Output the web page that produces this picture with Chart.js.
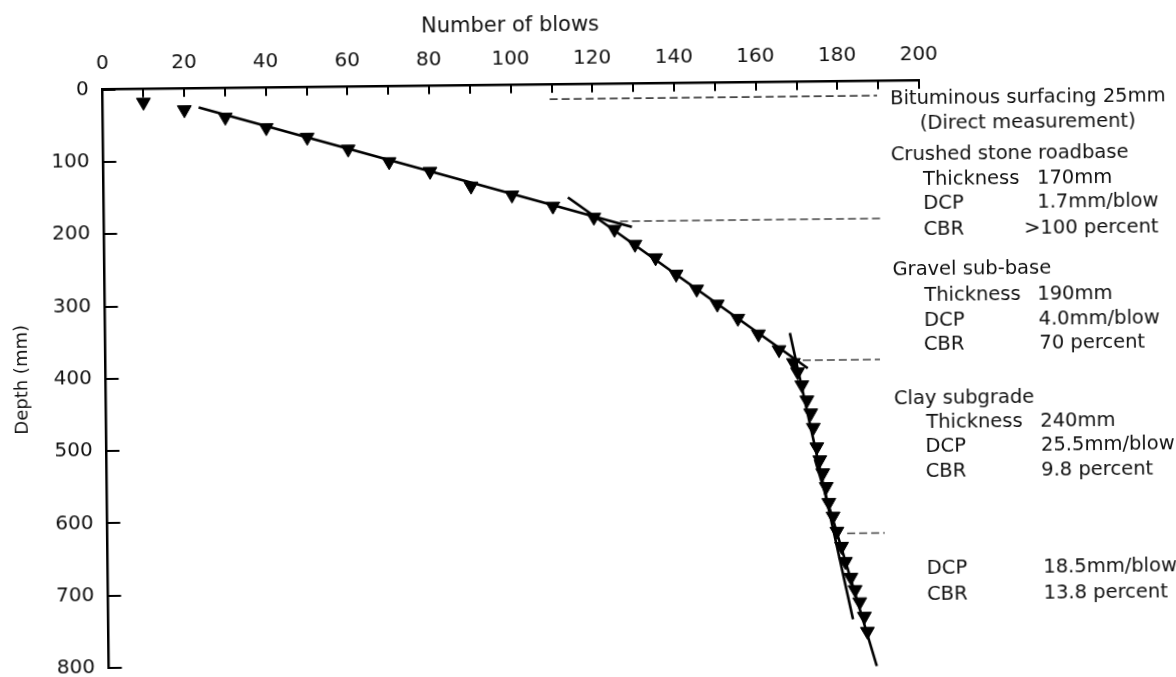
<!DOCTYPE html>
<html><head><meta charset="utf-8">
<script src="https://cdn.jsdelivr.net/npm/chart.js@4"></script>
<style>
html,body{margin:0;padding:0;background:#fff;overflow:hidden}
#wrap{width:1176px;height:677px;position:relative}
#c{transform:rotate(-0.63deg);transform-origin:103px 89px}
</style>
</head><body><div id="wrap"><canvas id="c"></canvas></div>
<script>
// ---- tick labels ----
const blowTickLabels = [0,20,40,60,80,100,120,140,160,180,200];
const blowMinorTicks = [0,10,20,30,40,50,60,70,80,90,100,110,120,130,140,150,160,170,180,190,200];
const depthTickLabels = [0,100,200,300,400,500,600,700,800];

// ---- DCP readings (blows, depth mm) ----
const blows  = [10,20,30,40,50,60,70,80,90,100,110,120,125,130,135,140,145,150,155,160,165,168.5,
                169.5,170.5,171.7,172.6,173.2,174,174.7,175.4,176.2,176.8,177.8,178.7,179.8,180.7,182,183,184.1,185.2,185.9];
const depths = [18,29,40,55,69,86,104,118,139,152,168,184,201,222,241,264,285,306,326,348,370,388,
                401,419,440,458,478,505,523,541,560,582,601,622,643,664,686,703,720,740,761];

// ---- fitted layer lines ----
const roadbaseFitBlows = [23.5,129.3]; const roadbaseFitDepths = [26,198];
const subbaseFitBlows  = [113.7,172];  const subbaseFitDepths  = [156,396];
const clayFitBlows     = [167.7,182.4];const clayFitDepths     = [347,744];
const lowerFitBlows    = [173.5,188.1];const lowerFitDepths    = [522,809];

// ---- layer boundaries (dashed) ----
const boundaryDepths = [20,190,385,625];
const boundaryFrom   = [109.5,126.4,170.8,181.2];
const boundaryTo     = [189.7,190.1,189.7,190.4];

// ---- notes ----
const noteLines = [
  ['Bituminous surfacing 25mm'],
  ['(Direct measurement)'],
  ['Crushed stone roadbase'],
  ['Thickness','170mm'],
  ['DCP','1.7mm/blow'],
  ['CBR','>100 percent'],
  ['Gravel sub-base'],
  ['Thickness','190mm'],
  ['DCP','4.0mm/blow'],
  ['CBR','70 percent'],
  ['Clay subgrade'],
  ['Thickness','240mm'],
  ['DCP','25.5mm/blow'],
  ['CBR','9.8 percent'],
  ['DCP','18.5mm/blow'],
  ['CBR','13.8 percent']
];
const notePlace = [
  [890,107.5],[919.5,133.4],[890,164],[922,188.6,1036],[922,212.9,1036],[922,238.6,1022.5],
  [890.5,279.4],[922,304.6,1035],[921.5,329.6,1036],[921,353.9,1036.5],
  [890.5,408.4],[922.5,432.3,1036.5],[921.5,456.3,1037],[921.5,481.3,1037],[921.5,577.9,1038],[921.5,603.6,1038]
];

const FONT = '"DejaVu Sans", "Liberation Sans", sans-serif';
const pts = (xs, ys) => xs.map((v,i)=>({x:v,y:ys[i]}));

const lineDs = (xs, ys) => ({data: pts(xs,ys), showLine:true, borderColor:'#000', borderWidth:2.6, pointRadius:0, fill:false, clip:false});
const datasets = [
  {data: pts(blows, depths), pointStyle:'triangle', rotation:180, pointRadius:8, backgroundColor:'#000', borderColor:'#000', borderWidth:1, showLine:false, clip:false},
  lineDs(roadbaseFitBlows, roadbaseFitDepths),
  lineDs(subbaseFitBlows, subbaseFitDepths),
  lineDs(clayFitBlows, clayFitDepths),
  lineDs(lowerFitBlows, lowerFitDepths)
];
boundaryDepths.forEach((d,i)=>{
  datasets.push({data:[{x:boundaryFrom[i],y:d},{x:boundaryTo[i],y:d}], showLine:true, borderColor:'#444', borderWidth:1.6, borderDash:[8,4], pointRadius:0, fill:false, clip:false});
});

const extras = {
  id:'extras',
  afterDraw(chart){
    const {ctx, scales:{x,y}, chartArea:a} = chart;
    ctx.save();
    ctx.strokeStyle='#000'; ctx.lineWidth=2;
    ctx.beginPath();
    blowMinorTicks.forEach(v=>{const px=Math.round(x.getPixelForValue(v)); ctx.moveTo(px,a.top); ctx.lineTo(px,a.top+8);});
    depthTickLabels.forEach(v=>{const py=Math.round(y.getPixelForValue(v)); ctx.moveTo(a.left,py); ctx.lineTo(a.left+13,py);});
    ctx.stroke();
    ctx.fillStyle='#111'; ctx.font='19.5px '+FONT; ctx.textBaseline='middle'; ctx.textAlign='left';
    noteLines.forEach((parts,i)=>{
      const p = notePlace[i];
      ctx.fillText(parts[0], p[0], p[1]);
      if (parts[1]) ctx.fillText(parts[1], p[2], p[1]);
    });
    ctx.restore();
  }
};

new Chart(document.getElementById('c'), {
  type:'scatter',
  data:{datasets},
  options:{
    responsive:true, maintainAspectRatio:false, animation:false, devicePixelRatio:1,
    layout:{padding:{top:0,left:0,right:257,bottom:8}},
    plugins:{legend:{display:false}, tooltip:{enabled:false}},
    scales:{
      x:{type:'linear', position:'top', min:0, max:200,
         afterBuildTicks: s => { s.ticks = blowTickLabels.map(v=>({value:v})); },
         ticks:{font:{family:FONT,size:20}, color:'#111', padding:14, maxRotation:0, autoSkip:false},
         grid:{display:true, drawOnChartArea:false, drawTicks:false},
         border:{display:true, color:'#000', width:2.5},
         title:{display:true, text:'Number of blows', color:'#111', font:{family:FONT,size:21,lineHeight:0.7}, padding:{top:23,bottom:0}}},
      y:{type:'linear', reverse:true, min:0, max:800,
         afterBuildTicks: s => { s.ticks = depthTickLabels.map(v=>({value:v})); },
         ticks:{font:{family:FONT,size:20,lineHeight:0.01}, color:'#111', padding:1, autoSkip:false,
                callback: v => v + '  '},
         grid:{display:true, drawOnChartArea:false, drawTicks:false},
         border:{display:true, color:'#000', width:2.5},
         title:{display:true, text:'Depth (mm)', color:'#111', font:{family:FONT,size:18}, padding:{top:9,bottom:19}}}
    }
  },
  plugins:[extras]
});
</script></body></html>
